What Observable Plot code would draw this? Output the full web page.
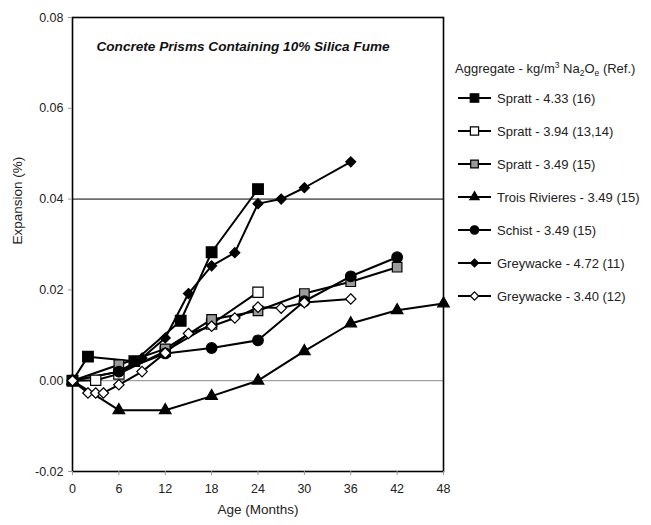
<!DOCTYPE html>
<html><head><meta charset="utf-8">
<script src="https://cdn.jsdelivr.net/npm/d3@7"></script>
<script src="https://cdn.jsdelivr.net/npm/@observablehq/plot@0.6"></script>
<style>
body{margin:0;background:#fff;font-family:"Liberation Sans",Arial,sans-serif;}
#wrap{position:relative;width:651px;height:525px;overflow:hidden;}
#wrap svg{position:absolute;left:0;top:0;}
</style></head><body><div id="wrap"></div>
<script>
// ---- data ----
const xTicks = [0, 6, 12, 18, 24, 30, 36, 42, 48];
const yTicks = [-0.02, 0, 0.02, 0.04, 0.06, 0.08];
const chartTitle = "Concrete Prisms Containing 10% Silica Fume";
const xLabel = "Age (Months)";
const yLabel = "Expansion (%)";
const seriesNames = [
  "Spratt - 4.33 (16)",
  "Spratt - 3.94 (13,14)",
  "Spratt - 3.49 (15)",
  "Trois Rivieres - 3.49 (15)",
  "Schist - 3.49 (15)",
  "Greywacke - 4.72 (11)",
  "Greywacke - 3.40 (12)"
];
const spratt433Months = [0, 2, 8, 14, 18, 24];
const spratt433Exp    = [0, 0.0053, 0.0043, 0.0132, 0.0283, 0.0422];
const spratt394Months = [0, 3, 6, 12, 18, 24];
const spratt394Exp    = [0, 0.0001, 0.0015, 0.0065, 0.0125, 0.0195];
const spratt349Months = [0, 6, 12, 18, 24, 30, 36, 42];
const spratt349Exp    = [0, 0.0035, 0.0070, 0.0135, 0.0154, 0.0192, 0.0218, 0.0250];
const troisMonths     = [0, 6, 12, 18, 24, 30, 36, 42, 48];
const troisExp        = [0, -0.0065, -0.0065, -0.0034, 0, 0.0065, 0.0126, 0.0155, 0.0170];
const schistMonths    = [0, 6, 12, 18, 24, 30, 36, 42];
const schistExp       = [0, 0.0020, 0.0060, 0.0072, 0.0089, 0.0175, 0.0230, 0.0272];
const grey472Months   = [0, 6, 9, 12, 15, 18, 21, 24, 27, 30, 36];
const grey472Exp      = [0, 0.0020, 0.0050, 0.0094, 0.0192, 0.0253, 0.0282, 0.0390, 0.0400, 0.0425, 0.0482];
const grey340Months   = [0, 2, 3, 4, 6, 9, 12, 15, 18, 21, 24, 27, 30, 36];
const grey340Exp      = [0, -0.0027, -0.0027, -0.0027, -0.0009, 0.0020, 0.0061, 0.0104, 0.0120, 0.0138, 0.0162, 0.0160, 0.0172, 0.0180];

const seriesMonths = [spratt433Months, spratt394Months, spratt349Months, troisMonths, schistMonths, grey472Months, grey340Months];
const seriesExp    = [spratt433Exp, spratt394Exp, spratt349Exp, troisExp, schistExp, grey472Exp, grey340Exp];

// ---- styles ----
const styles = [
  {symbol: "square",   fill: "#000", r: 6.0},
  {symbol: "square",   fill: "#fff", r: 5.8},
  {symbol: "square",   fill: "#9a9a9a", r: 5.4},
  {symbol: "triangle", fill: "#000", r: 4.3},
  {symbol: "circle",   fill: "#000", r: 5.3},
  {symbol: "diamond2", fill: "#000", r: 4.5},
  {symbol: "diamond2", fill: "#fff", r: 4.7}
];

const rows = [];
seriesNames.forEach((name, i) => {
  seriesMonths[i].forEach((t, j) => rows.push({series: name, idx: i, t, v: seriesExp[i][j]}));
});

const font = "Liberation Sans, Arial, sans-serif";
const marks = [
  Plot.ruleY([0.04], {stroke: "#6e6e6e", strokeWidth: 1.6}),
  Plot.ruleY([0], {stroke: "#8a8a8a", strokeWidth: 1}),
  Plot.frame({stroke: "#000", strokeWidth: 1.6}),
  Plot.axisX({ticks: xTicks, tickSize: 4, tickPadding: 9, stroke: "#999", fill: "#222", fontSize: 12.5, label: null}),
  Plot.axisY({ticks: yTicks, tickFormat: d => d.toFixed(2), tickSize: 4, tickPadding: 5, stroke: "#999", fill: "#222", fontSize: 12.5, label: null}),
  Plot.text([chartTitle], {frameAnchor: "top-left", dx: 24, dy: 24, fontSize: 13.6, fontWeight: "bold", fontStyle: "italic", fill: "#111", textAnchor: "start"}),
  Plot.text([xLabel], {frameAnchor: "bottom", dy: 42, fontSize: 13.5, fill: "#222"}),
  Plot.text([yLabel], {frameAnchor: "left", dx: -55, rotate: -90, fontSize: 13.5, fill: "#222"})
];
seriesNames.forEach((name, i) => {
  const d = rows.filter(r => r.idx === i);
  marks.push(Plot.line(d, {x: "t", y: "v", stroke: "#000", strokeWidth: 2}));
});
seriesNames.forEach((name, i) => {
  const d = rows.filter(r => r.idx === i);
  const s = styles[i];
  marks.push(Plot.dot(d, {x: "t", y: "v", symbol: () => s.symbol, fill: s.fill, stroke: "#000", strokeWidth: 1.2, r: s.r}));
});

const chart = Plot.plot({
  width: 651, height: 525,
  marginLeft: 72, marginRight: 208, marginTop: 17, marginBottom: 54,
  style: {fontFamily: font, background: "#fff"},
  x: {domain: [0, 48]},
  y: {domain: [-0.02, 0.08]},
  symbol: {type: "identity"},
  marks
});
document.getElementById("wrap").appendChild(chart);

// ---- legend overlay ----
const lg = d3.select("#wrap").append("svg").attr("width", 651).attr("height", 525)
  .style("font-family", font);
const header = lg.append("text").attr("x", 455).attr("y", 73).attr("font-size", 13).attr("fill", "#222");
header.append("tspan").text("Aggregate - kg/m");
header.append("tspan").attr("font-size", 8.5).attr("dy", -5).text("3");
header.append("tspan").attr("dy", 5).text(" Na");
header.append("tspan").attr("font-size", 8.5).attr("dy", 3).text("2");
header.append("tspan").attr("dy", -3).text("O");
header.append("tspan").attr("font-size", 8.5).attr("dy", 3).text("e");
header.append("tspan").attr("dy", -3).text(" (Ref.)");
const symMap = {square: d3.symbolSquare, triangle: d3.symbolTriangle, circle: d3.symbolCircle, diamond2: d3.symbolDiamond2};
seriesNames.forEach((name, i) => {
  const y = 98 + i * 33;
  const s = styles[i];
  const g = lg.append("g");
  g.append("line").attr("x1", 458).attr("x2", 491).attr("y1", y).attr("y2", y).attr("stroke", "#000").attr("stroke-width", 2);
  const sz = Math.PI * (s.r * 0.8) ** 2;
  g.append("path").attr("d", d3.symbol(symMap[s.symbol], sz)()).attr("transform", `translate(474.5,${y})`)
    .attr("fill", s.fill).attr("stroke", "#000").attr("stroke-width", 1.2);
  g.append("text").attr("x", 497).attr("y", y).attr("dy", "0.35em").attr("font-size", 13).attr("fill", "#222").text(name);
});
</script></body></html>
